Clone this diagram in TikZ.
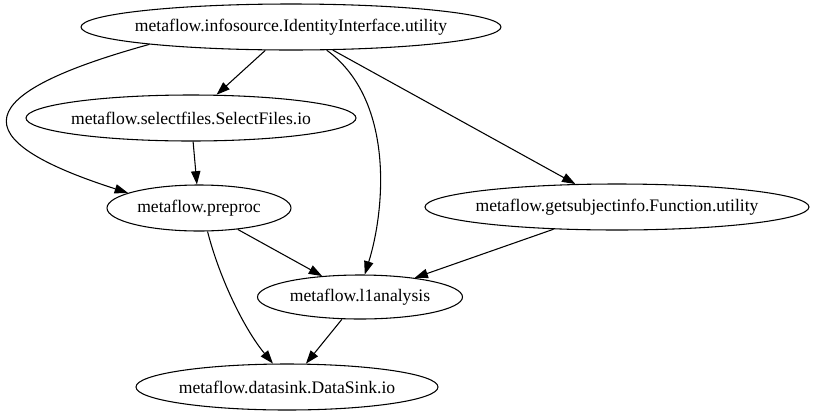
\documentclass[tikz,border=0pt]{standalone}
\usepackage{fontspec}
\setmainfont{Liberation Serif}
\usetikzlibrary{arrows.meta,shapes.geometric}
\newcommand{\flowlabel}[1]{\makebox[0pt]{#1}}

\begin{document}
\begin{tikzpicture}[x=0.75pt,y=-0.75pt,
		flownode/.style={draw,ellipse,line width=0.8pt,inner sep=0pt,minimum height=34.5pt,font=\fontsize{13.2}{15}\selectfont},
		flowedge/.style={line width=0.8pt,-{Triangle[length=10pt,width=7pt]}}]
			%%%%% START %%%%%
			\useasboundingbox (0,0) rectangle (814,415);
			
			\node[flownode,minimum width=315pt] (idsrc) at (291,27) {\flowlabel{metaflow.infosource.IdentityInterface.utility}};
			\node[flownode,minimum width=247.5pt] (selfiles) at (191,118) {\flowlabel{metaflow.selectfiles.SelectFiles.io}};
			\node[flownode,minimum width=138pt] (preproc) at (199,208) {\flowlabel{metaflow.preproc}};
			\node[flownode,minimum width=288pt] (subjinfo) at (617,207) {\flowlabel{metaflow.getsubjectinfo.Function.utility}};
			\node[flownode,minimum width=153.75pt,minimum height=33pt] (lone) at (360,297) {\flowlabel{metaflow.l1analysis}};
			\node[flownode,minimum width=226.5pt] (datasink) at (287,387) {\flowlabel{metaflow.datasink.DataSink.io}};
			
			\draw[flowedge] (idsrc) -- (selfiles);
			\draw[flowedge] (idsrc.187) .. controls (-30,94) and (-40,139) .. (preproc.168);
			\draw[flowedge] (selfiles) -- (preproc);
			\draw[flowedge] (idsrc.327) .. controls (395,100) and (385,210) .. (lone.78);
			\draw[flowedge] (idsrc) -- (subjinfo);
			
			\draw[flowedge] (preproc) -- (lone);
			\draw[flowedge] (subjinfo) -- (lone);
			\draw[flowedge] (preproc.-70) .. controls (220,280) and (245,330) .. (datasink.121);
			\draw[flowedge] (lone) -- (datasink);
			%%%%% END %%%%%
\end{tikzpicture}
\end{document}
